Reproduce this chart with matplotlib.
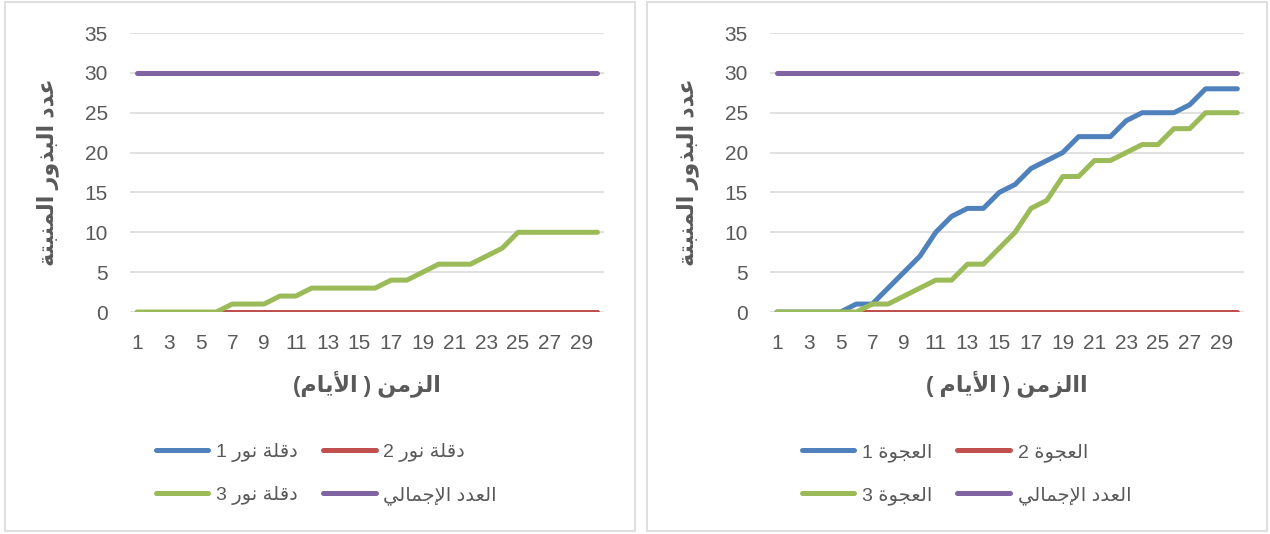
import matplotlib
matplotlib.use("Agg")
import matplotlib.pyplot as plt
from matplotlib.patches import Rectangle

# days and germinated seed counts
days = list(range(1, 31))

deglet_1 = [0] * 30
deglet_2 = [0] * 30
deglet_3 = [0, 0, 0, 0, 0, 0, 1, 1, 1, 2, 2, 3, 3, 3, 3, 3, 4, 4, 5, 6,
            6, 6, 7, 8, 10, 10, 10, 10, 10, 10]
deglet_total = [30] * 30

ajwa_1 = [0, 0, 0, 0, 0, 1, 1, 3, 5, 7, 10, 12, 13, 13, 15, 16, 18, 19, 20, 22,
          22, 22, 24, 25, 25, 25, 26, 28, 28, 28]
ajwa_2 = [0] * 30
ajwa_3 = [0, 0, 0, 0, 0, 0, 1, 1, 2, 3, 4, 4, 6, 6, 8, 10, 13, 14, 17, 17,
          19, 19, 20, 21, 21, 23, 23, 25, 25, 25]
ajwa_total = [30] * 30

y_ticks = [0, 5, 10, 15, 20, 25, 30, 35]
x_ticks = list(range(1, 31, 2))

left_names = ["دقلة نور 1", "دقلة نور 2", "دقلة نور 3", "العدد الإجمالي"]
right_names = ["العجوة 1", "العجوة 2", "العجوة 3", "العدد الإجمالي"]
y_title = "عدد البذور المنبتة"
left_x_title = "الزمن ( الأيام)"
right_x_title = "االزمن ( الأيام )"

colors = ["#4F81BD", "#C0504D", "#9BBB59", "#8064A2"]
text_grey = "#595959"
grid_grey = "#D9D9D9"

# --- minimal Arabic shaping (presentation forms) + right-to-left ordering ---
# letter: (isolated, final, initial, medial); None = does not join forward
FORMS = {
    "ا": ("\uFE8D", "\uFE8E", None, None),
    "أ": ("\uFE83", "\uFE84", None, None),
    "إ": ("\uFE87", "\uFE88", None, None),
    "ب": ("\uFE8F", "\uFE90", "\uFE91", "\uFE92"),
    "ة": ("\uFE93", "\uFE94", None, None),
    "ت": ("\uFE95", "\uFE96", "\uFE97", "\uFE98"),
    "ج": ("\uFE9D", "\uFE9E", "\uFE9F", "\uFEA0"),
    "د": ("\uFEA9", "\uFEAA", None, None),
    "ذ": ("\uFEAB", "\uFEAC", None, None),
    "ر": ("\uFEAD", "\uFEAE", None, None),
    "ز": ("\uFEAF", "\uFEB0", None, None),
    "ع": ("\uFEC9", "\uFECA", "\uFECB", "\uFECC"),
    "ق": ("\uFED5", "\uFED6", "\uFED7", "\uFED8"),
    "ل": ("\uFEDD", "\uFEDE", "\uFEDF", "\uFEE0"),
    "م": ("\uFEE1", "\uFEE2", "\uFEE3", "\uFEE4"),
    "ن": ("\uFEE5", "\uFEE6", "\uFEE7", "\uFEE8"),
    "و": ("\uFEED", "\uFEEE", None, None),
    "ي": ("\uFEF1", "\uFEF2", "\uFEF3", "\uFEF4"),
    "لا": ("\uFEFB", "\uFEFC", None, None),
    "لأ": ("\uFEF7", "\uFEF8", None, None),
    "لإ": ("\uFEF9", "\uFEFA", None, None),
}
MIRROR = {"(": ")", ")": "("}


def shape_ar(s):
    tokens = []
    i = 0
    while i < len(s):
        if s[i] == "ل" and i + 1 < len(s) and s[i:i + 2] in FORMS:
            tokens.append(s[i:i + 2])
            i += 2
        else:
            tokens.append(s[i])
            i += 1
    glyphs = []
    for k, t in enumerate(tokens):
        if t not in FORMS:
            glyphs.append(t)
            continue
        prev = tokens[k - 1] if k > 0 else None
        nxt = tokens[k + 1] if k + 1 < len(tokens) else None
        join_prev = prev in FORMS and FORMS[prev][2] is not None
        join_next = FORMS[t][2] is not None and nxt in FORMS
        iso, fin, ini, med = FORMS[t]
        if join_prev and join_next:
            glyphs.append(med)
        elif join_prev:
            glyphs.append(fin)
        elif join_next:
            glyphs.append(ini)
        else:
            glyphs.append(iso)
    # visual order for a right-to-left line: reverse, keep digit runs LTR
    vis = [MIRROR.get(g, g) for g in reversed(glyphs)]
    out, run = [], []
    for g in vis:
        if g.isdigit():
            run.append(g)
        else:
            out.extend(reversed(run))
            run = []
            out.append(g)
    out.extend(reversed(run))
    return "".join(out)


plt.rcParams["font.family"] = ["Liberation Sans", "DejaVu Sans"]

fig = plt.figure(figsize=(12.7, 5.34), dpi=100)
fig.patch.set_facecolor("white")

# chart frames
for x0, x1 in [(5, 635), (647, 1267)]:
    fig.add_artist(Rectangle((x0 / 1270, 3 / 534), (x1 - x0) / 1270, 529 / 534,
                             transform=fig.transFigure, fill=False,
                             edgecolor=grid_grey, linewidth=1.2))

panels = [
    (0.1024, [deglet_1, deglet_2, deglet_3, deglet_total], left_names, left_x_title, 0.257),
    (0.6063, [ajwa_1, ajwa_2, ajwa_3, ajwa_total], right_names, right_x_title, 0.761),
]

for left, series, names, x_title, leg_x in panels:
    ax = fig.add_axes([left, 0.4157, 0.3735, 0.5225])
    handles = []
    for vals, name, c in zip(series, names, colors):
        h, = ax.plot(days, vals, color=c, linewidth=3.6, solid_capstyle="round",
                     solid_joinstyle="round", label=shape_ar(name))
        handles.append(h)
    ax.set_ylim(0, 35)
    ax.set_xlim(0.56, 30.44)
    ax.set_yticks(y_ticks)
    ax.set_xticks(x_ticks)
    ax.grid(axis="y", color=grid_grey, linewidth=1.1)
    ax.set_axisbelow(True)
    for sp in ax.spines.values():
        sp.set_visible(False)
    ax.tick_params(length=0, labelsize=15, labelcolor=text_grey)
    ax.tick_params(axis="x", pad=16)
    ax.tick_params(axis="y", pad=16)
    ax.set_xlabel(shape_ar(x_title), fontsize=16, fontweight="bold",
                  color=text_grey, labelpad=12)
    ax.set_ylabel(shape_ar(y_title), fontsize=16, fontweight="bold",
                  color=text_grey, labelpad=18)

    order = [0, 2, 1, 3]
    fig.legend([handles[i] for i in order], [handles[i].get_label() for i in order],
               loc="center", bbox_to_anchor=(leg_x, 0.1124), ncol=2, frameon=False,
               fontsize=14, labelcolor=text_grey, handlelength=2.7,
               handletextpad=0.4, columnspacing=1.3, labelspacing=1.25)

fig.savefig("out.png", dpi=100, facecolor="white")
